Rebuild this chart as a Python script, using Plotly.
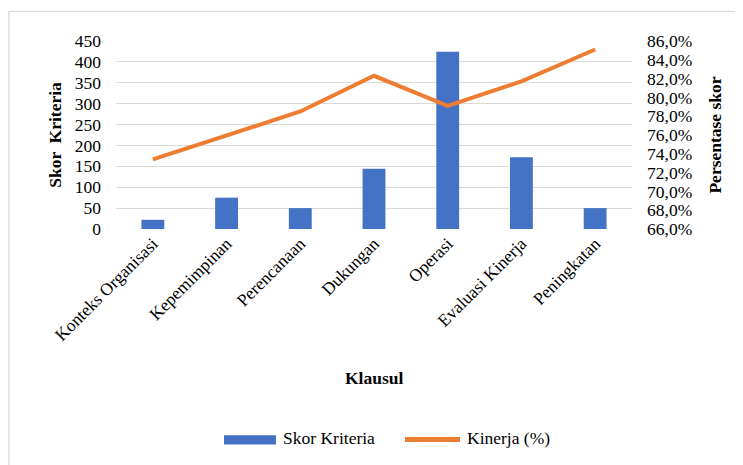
import plotly.graph_objects as go

categories = ["Konteks Organisasi", "Kepemimpinan", "Perencanaan", "Dukungan",
              "Operasi", "Evaluasi Kinerja", "Peningkatan"]
skor_kriteria = [22, 75, 50, 144, 424, 172, 50]
kinerja = [0.734, 0.759, 0.785, 0.823, 0.791, 0.817, 0.851]
series_names = ["Skor Kriteria", "Kinerja (%)"]
series_colors = ["#4472C4", "#ED7D31"]

FONT = "Liberation Serif, Times New Roman, serif"
FS = 17.5

fig = go.Figure()
fig.add_trace(go.Bar(x=categories, y=skor_kriteria, name=series_names[0],
                     marker=dict(color=series_colors[0], line=dict(width=0)),
                     width=0.31, yaxis="y"))
fig.add_trace(go.Scatter(x=categories, y=kinerja, name=series_names[1],
                         mode="lines", line=dict(color=series_colors[1], width=4),
                         yaxis="y2"))

# legend drawn as keys + text below the chart
legend_shapes = [
    dict(type="rect", xref="paper", yref="paper", x0=0.2093, x1=0.3101,
         y0=-1.1468, y1=-1.0973, line=dict(width=0), fillcolor=series_colors[0]),
    dict(type="line", xref="paper", yref="paper", x0=0.5601, x1=0.6667,
         y0=-1.1202, y1=-1.1202, line=dict(color=series_colors[1], width=5)),
]
legend_texts = [
    dict(text=series_names[0], xref="paper", yref="paper", x=0.3198, y=-1.1133,
         xanchor="left", yanchor="middle", showarrow=False, font=dict(size=FS)),
    dict(text=series_names[1], xref="paper", yref="paper", x=0.6764, y=-1.1133,
         xanchor="left", yanchor="middle", showarrow=False, font=dict(size=FS)),
]

fig.update_layout(
    width=743, height=465,
    margin=dict(l=108, r=119, t=33, b=244),
    paper_bgcolor="white", plot_bgcolor="white",
    font=dict(family=FONT, size=FS, color="black"),
    separators=",.",
    showlegend=False,
    xaxis=dict(tickangle=-45, showgrid=False, showline=False, ticks="",
               tickfont=dict(size=FS)),
    yaxis=dict(range=[0, 450], dtick=50, showgrid=True, gridcolor="#d9d9d9",
               gridwidth=1.3, zeroline=False, showline=False, ticks="",
               ticklabelstandoff=14,
               title=dict(text="<b>Skor  Kriteria</b>", standoff=8,
                          font=dict(size=FS))),
    yaxis2=dict(range=[0.66, 0.86], dtick=0.02, tickformat=".1%", overlaying="y",
                side="right", showgrid=False, zeroline=False, showline=False,
                ticks="", ticklabelstandoff=14,
                title=dict(text="<b>Persentase skor</b>", standoff=17,
                           font=dict(size=FS))),
    annotations=[dict(text="<b>Klausul</b>", xref="paper", yref="paper",
                      x=0.5, y=-0.794, xanchor="center", yanchor="middle",
                      showarrow=False, font=dict(size=FS))] + legend_texts,
    shapes=[dict(type="rect", xref="paper", yref="paper",
                 x0=-0.2074, x1=1.4, y0=-1.4, y1=1.158,
                 line=dict(color="#d9d9d9", width=1.3), fillcolor="rgba(0,0,0,0)",
                 layer="below")] + legend_shapes,
)

fig.write_html("out.html")
